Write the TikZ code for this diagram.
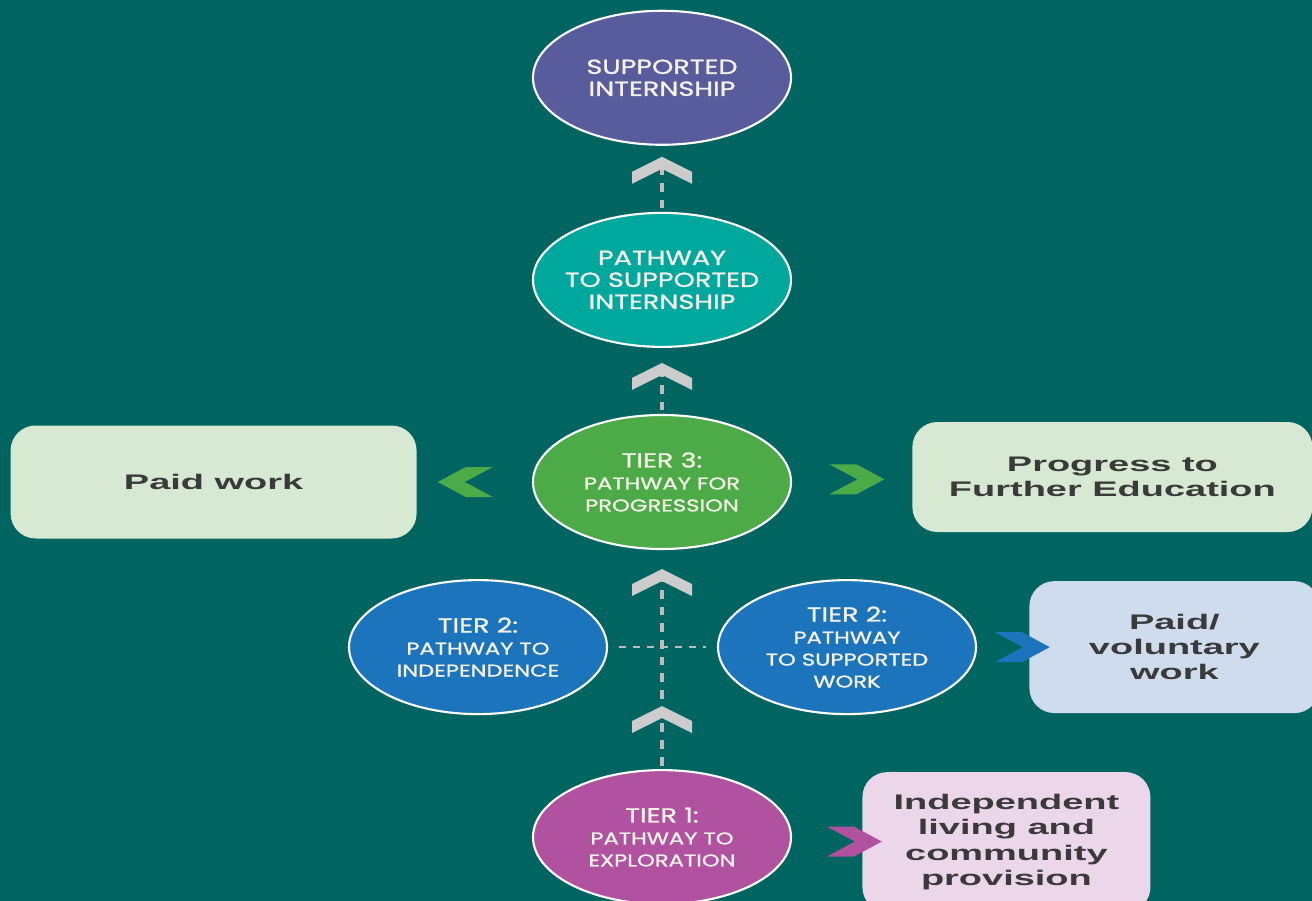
\documentclass[tikz,border=0pt]{standalone}
\usepackage{fontspec}
\setmainfont{Liberation Sans}
\newfontfamily\tierfont[FakeStretch=1.33,FakeBold=1.3]{Poppins}
\newfontfamily\goalfont[FakeStretch=1.8]{Liberation Sans}
\usepackage{xcolor}
\definecolor{BgTeal}{HTML}{006461}
\definecolor{TierPurple}{HTML}{585B9C}
\definecolor{TierTeal}{HTML}{00A79D}
\definecolor{TierGreen}{HTML}{4CAB46}
\definecolor{TierBlue}{HTML}{1C75BC}
\definecolor{TierMagenta}{HTML}{B0529F}
\definecolor{TierText}{HTML}{F4F1E8}
\definecolor{GoalGreen}{HTML}{D7E9D3}
\definecolor{GoalBlue}{HTML}{CFDCEE}
\definecolor{GoalPink}{HTML}{EBD6EA}
\definecolor{GoalText}{HTML}{3A3A3A}
\definecolor{ChevGrey}{HTML}{CCCCCC}
\definecolor{LinkGrey}{HTML}{BDBDBD}
\usetikzlibrary{positioning,calc,shapes.geometric}
\newcommand{\pathtext}[1]{{\fontsize{9.7}{12.5}\selectfont #1}}

\begin{document}
\begin{tikzpicture}[
  tier/.style={ellipse,draw=white,line width=1.2pt,minimum width=5.16cm,minimum height=2.68cm,inner sep=-2mm,align=center,text=TierText,font=\tierfont\fontsize{11.6}{12.5}\selectfont},
  goal/.style={rounded corners=5mm,inner sep=0pt,align=center,text=GoalText,font=\goalfont\bfseries\fontsize{12}{14.4}\selectfont},
  vlink/.style={draw=LinkGrey,line width=2pt,dash pattern=on 5pt off 4.5pt},
  hlink/.style={draw=LinkGrey,line width=1.1pt,dash pattern=on 4pt off 4pt},
  vchev/.pic={\path[pic actions] (0,0.24) -- (0.6,-0.06) -- (0.6,-0.3) -- (0,0) -- (-0.6,-0.3) -- (-0.6,-0.06) -- cycle;},
  hchev/.pic={\path[pic actions] (0.55,0) -- (-0.01,0.3) -- (-0.55,0.3) -- (0.01,0) -- (-0.55,-0.3) -- (-0.01,-0.3) -- cycle;}
]
  \clip (0,0) rectangle (26.24,-18.02);
  \fill[BgTeal] (0,0) rectangle (26.24,-18.02);

  % tiers
  \node[tier,fill=TierGreen] (tier3) at (13.24,-9.64) {TIER 3:\\\pathtext{PATHWAY FOR}\\\pathtext{PROGRESSION}};
  \node[tier,fill=TierTeal,above=1.32cm of tier3] (pathway) {PATHWAY\\TO SUPPORTED\\INTERNSHIP};
  \node[tier,fill=TierPurple,above=1.32cm of pathway] (intern) {SUPPORTED\\INTERNSHIP};
  \node[tier,fill=TierBlue,below=0.58cm of tier3,xshift=-3.68cm] (indep) {TIER 2:\\\pathtext{PATHWAY TO}\\\pathtext{INDEPENDENCE}};
  \node[tier,fill=TierBlue,below=0.58cm of tier3,xshift=3.7cm] (work) {TIER 2:\\\pathtext{PATHWAY}\\\pathtext{TO SUPPORTED}\\\pathtext{WORK}};
  \node[tier,fill=TierMagenta,below=4.38cm of tier3] (explore) {TIER 1:\\\pathtext{PATHWAY TO}\\\pathtext{EXPLORATION}};

  % outcomes
  \node[goal,fill=GoalGreen,minimum width=8.12cm,minimum height=2.26cm,left=2.3cm of tier3] (paid) {Paid work};
  \node[goal,fill=GoalGreen,minimum width=8cm,minimum height=2.2cm,right=2.4cm of tier3,yshift=1mm] (further) {Progress to\\Further Education};
  \node[goal,fill=GoalBlue,minimum width=5.8cm,minimum height=2.64cm,right=1.04cm of work] (voluntary) {Paid/\\voluntary\\work};
  \node[goal,fill=GoalPink,minimum width=5.76cm,minimum height=2.8cm,right=1.4cm of explore,yshift=-1mm] (living) {Independent\\living and\\community\\provision};

  % dashed links and chevrons
  \coordinate[below=0.46cm of intern] (up1);
  \coordinate[below=0.54cm of pathway] (up2);
  \coordinate[below=0.62cm of tier3] (up3);
  \coordinate[above=1.02cm of explore] (up4);
  \draw[vlink,shorten <=2pt] (pathway.north) -- (up1);
  \draw[vlink,shorten <=2pt] (tier3.north) -- (up2);
  \draw[vlink,shorten <=2pt] (explore.north) -- (up3);
  \draw[hlink,shorten <=6pt,shorten >=6pt] (indep) -- (work);
  \foreach \c in {up1,up2,up3,up4} \pic[fill=ChevGrey] at (\c) {vchev};

  \pic[fill=TierGreen,rotate=180] at ($(tier3.west)!0.58!(paid.east)$) {hchev};
  \pic[fill=TierGreen] at ($(tier3.east)!0.54!(further.west)$) {hchev};
  \pic[fill=TierBlue] at ($(work.east)!0.87!(voluntary.west)$) {hchev};
  \pic[fill=TierMagenta] at ($(explore.east)!0.89!(living.west)$) {hchev};
\end{tikzpicture}
\end{document}
